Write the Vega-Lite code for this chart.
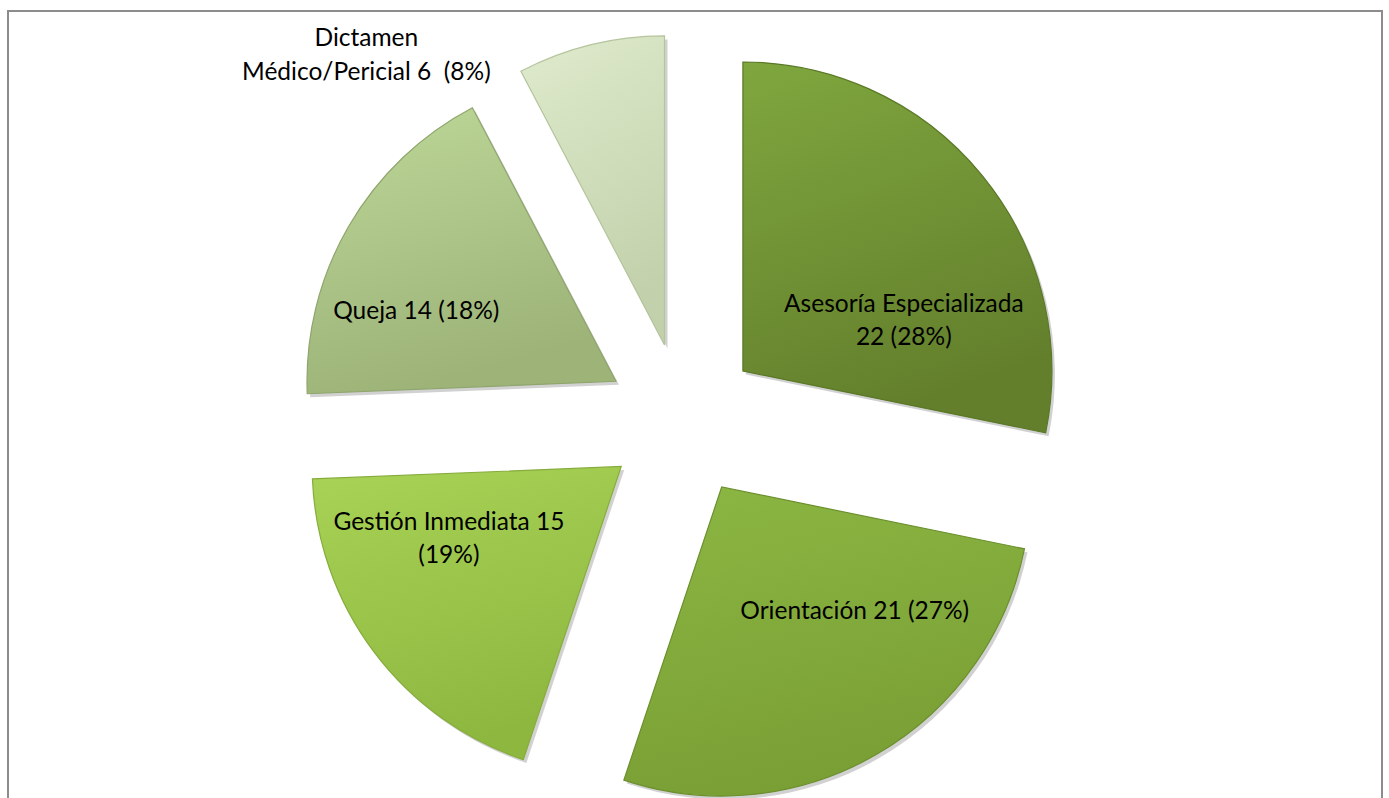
{
  "$schema": "https://vega.github.io/schema/vega-lite/v6.json",
  "autosize": {"type": "fit", "contains": "padding"},
  "width": 1389,
  "height": 798,
  "padding": {"left": 8, "top": 11, "right": 7, "bottom": -5},
  "background": "white",
  "view": {"stroke": "#8c8c8c", "strokeWidth": 2},
  "data": {
    "values": [
      {"idx": 1, "cat": "Asesoría Especializada", "value": 22, "label": "Asesoría Especializada\n22 (28%)"},
      {"idx": 2, "cat": "Orientación", "value": 21, "label": "Orientación 21 (27%)"},
      {"idx": 3, "cat": "Gestión Inmediata", "value": 15, "label": "Gestión Inmediata 15\n(19%)"},
      {"idx": 4, "cat": "Queja", "value": 14, "label": "Queja 14 (18%)"},
      {"idx": 5, "cat": "Dictamen Médico/Pericial", "value": 6, "label": "Dictamen\nMédico/Pericial 6\u00a0 (8%)"}
    ]
  },
  "encoding": {
    "theta": {"field": "value", "type": "quantitative", "stack": true, "scale": {"nice": false}},
    "order": {"field": "idx", "type": "quantitative"}
  },
  "layer": [
    {"mark": {"type": "arc", "radius": 309, "xOffset": 50.9, "yOffset": -32.5, "fill": "#000", "fillOpacity": 0.18},
     "encoding": {"opacity": {"condition": {"test": "datum.idx === 1", "value": 1}, "value": 0}}},
    {"mark": {"type": "arc", "radius": 309, "xOffset": 29.7, "yOffset": 83.5, "fill": "#000", "fillOpacity": 0.18},
     "encoding": {"opacity": {"condition": {"test": "datum.idx === 2", "value": 1}, "value": 0}}},
    {"mark": {"type": "arc", "radius": 309, "xOffset": -70.8, "yOffset": 63, "fill": "#000", "fillOpacity": 0.18},
     "encoding": {"opacity": {"condition": {"test": "datum.idx === 3", "value": 1}, "value": 0}}},
    {"mark": {"type": "arc", "radius": 309, "xOffset": -76, "yOffset": -22.2, "fill": "#000", "fillOpacity": 0.18},
     "encoding": {"opacity": {"condition": {"test": "datum.idx === 4", "value": 1}, "value": 0}}},
    {"mark": {"type": "arc", "radius": 309, "xOffset": -27.5, "yOffset": -58.6, "fill": "#000", "fillOpacity": 0.18},
     "encoding": {"opacity": {"condition": {"test": "datum.idx === 5", "value": 1}, "value": 0}}},

    {"mark": {"type": "arc", "radius": 309, "xOffset": 47.9, "yOffset": -36.0, "stroke": "#5a7826", "strokeWidth": 1.2,
      "fill": {"gradient": "linear", "x1": 0, "y1": 0, "x2": 0.3, "y2": 1, "stops": [{"offset": 0, "color": "#7fa73e"}, {"offset": 1, "color": "#637f2c"}]}},
     "encoding": {"opacity": {"condition": {"test": "datum.idx === 1", "value": 1}, "value": 0}}},
    {"mark": {"type": "arc", "radius": 309, "xOffset": 26.7, "yOffset": 80.0, "stroke": "#6b8f2d", "strokeWidth": 1.2,
      "fill": {"gradient": "linear", "x1": 0, "y1": 0, "x2": 0.3, "y2": 1, "stops": [{"offset": 0, "color": "#8cb743"}, {"offset": 1, "color": "#7a9f35"}]}},
     "encoding": {"opacity": {"condition": {"test": "datum.idx === 2", "value": 1}, "value": 0}}},
    {"mark": {"type": "arc", "radius": 309, "xOffset": -73.8, "yOffset": 59.5, "stroke": "#86ac3c", "strokeWidth": 1.2,
      "fill": {"gradient": "linear", "x1": 0, "y1": 0, "x2": 0.3, "y2": 1, "stops": [{"offset": 0, "color": "#a9d356"}, {"offset": 1, "color": "#8db73f"}]}},
     "encoding": {"opacity": {"condition": {"test": "datum.idx === 3", "value": 1}, "value": 0}}},
    {"mark": {"type": "arc", "radius": 309, "xOffset": -79.0, "yOffset": -25.7, "stroke": "#8fa56c", "strokeWidth": 1.2,
      "fill": {"gradient": "linear", "x1": 0, "y1": 0, "x2": 0.3, "y2": 1, "stops": [{"offset": 0, "color": "#bdd899"}, {"offset": 1, "color": "#9db378"}]}},
     "encoding": {"opacity": {"condition": {"test": "datum.idx === 4", "value": 1}, "value": 0}}},
    {"mark": {"type": "arc", "radius": 309, "xOffset": -30.5, "yOffset": -62.1, "stroke": "#b4c49c", "strokeWidth": 1.2,
      "fill": {"gradient": "linear", "x1": 0, "y1": 0, "x2": 0.3, "y2": 1, "stops": [{"offset": 0, "color": "#dfebcd"}, {"offset": 1, "color": "#c2d1ab"}]}},
     "encoding": {"opacity": {"condition": {"test": "datum.idx === 5", "value": 1}, "value": 0}}},

    {"mark": {"type": "text", "radius": 160, "xOffset": 47.9, "yOffset": -36.0, "dx": 37, "dy": 35, "font": "Lato", "fontSize": 24.5, "color": "#000", "align": "center", "baseline": "middle", "lineBreak": "\n", "lineHeight": 33},
     "encoding": {"text": {"field": "label"}, "opacity": {"condition": {"test": "datum.idx === 1", "value": 1}, "value": 0}}},
    {"mark": {"type": "text", "radius": 175, "xOffset": 26.7, "yOffset": 80.0, "dx": 45.5, "dy": -26.6, "font": "Lato", "fontSize": 24.5, "color": "#000", "align": "center", "baseline": "middle", "lineBreak": "\n", "lineHeight": 33},
     "encoding": {"text": {"field": "label"}, "opacity": {"condition": {"test": "datum.idx === 2", "value": 1}, "value": 0}}},
    {"mark": {"type": "text", "radius": 178, "xOffset": -73.8, "yOffset": 59.5, "dx": -30, "dy": -50, "font": "Lato", "fontSize": 24.5, "color": "#000", "align": "center", "baseline": "middle", "lineBreak": "\n", "lineHeight": 33},
     "encoding": {"text": {"field": "label"}, "opacity": {"condition": {"test": "datum.idx === 3", "value": 1}, "value": 0}}},
    {"mark": {"type": "text", "radius": 207, "xOffset": -79.0, "yOffset": -25.7, "dx": -20.5, "dy": 34.5, "font": "Lato", "fontSize": 24.5, "color": "#000", "align": "center", "baseline": "middle", "lineBreak": "\n", "lineHeight": 33},
     "encoding": {"text": {"field": "label"}, "opacity": {"condition": {"test": "datum.idx === 4", "value": 1}, "value": 0}}},
    {"mark": {"type": "text", "radius": 352, "xOffset": -30.5, "yOffset": -62.1, "dx": -213.9, "dy": 36, "font": "Lato", "fontSize": 24.5, "color": "#000", "align": "center", "baseline": "middle", "lineBreak": "\n", "lineHeight": 34},
     "encoding": {"text": {"field": "label"}, "opacity": {"condition": {"test": "datum.idx === 5", "value": 1}, "value": 0}}}
  ]
}
